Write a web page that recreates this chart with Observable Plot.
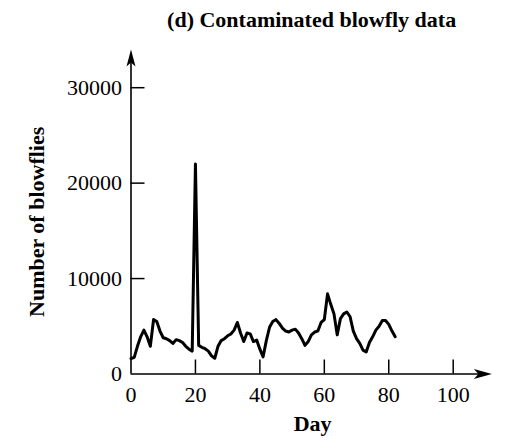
<!DOCTYPE html>
<html>
<head>
<meta charset="utf-8">
<script src="https://cdn.jsdelivr.net/npm/d3@7"></script>
<script src="https://cdn.jsdelivr.net/npm/@observablehq/plot@0.6"></script>
<style>
  html, body { margin: 0; padding: 0; background: #fff; }
  svg { display: block; }
</style>
</head>
<body>
<div id="chart"></div>
<script>
const titleText = "(d) Contaminated blowfly data";
const xLabel = "Day";
const yLabel = "Number of blowflies";

const days = [
  0, 1, 2, 3, 4, 5, 6, 7, 8, 9,
  10, 11, 12, 13, 14, 15, 16, 17, 18, 19,
  20, 21, 22, 23, 24, 25, 26, 27, 28, 29,
  30, 31, 32, 33, 34, 35, 36, 37, 38, 39,
  40, 41, 42, 43, 44, 45, 46, 47, 48, 49,
  50, 51, 52, 53, 54, 55, 56, 57, 58, 59,
  60, 61, 62, 63, 64, 65, 66, 67, 68, 69,
  70, 71, 72, 73, 74, 75, 76, 77, 78, 79,
  80, 81, 82
];
const flies = [
  1600, 1750, 2900, 3900, 4600, 3900, 2900, 5700, 5500, 4500,
  3800, 3700, 3500, 3200, 3600, 3500, 3300, 2900, 2600, 2400,
  22000, 3000, 2800, 2650, 2400, 1900, 1650, 2900, 3500, 3700,
  4000, 4200, 4600, 5400, 4300, 3400, 4300, 4200, 3400, 3550,
  2600, 1800, 3500, 4900, 5500, 5700, 5300, 4800, 4500, 4400,
  4600, 4700, 4300, 3700, 3000, 3400, 4100, 4400, 4500, 5400,
  5700, 8400, 7300, 6300, 4100, 5800, 6300, 6500, 6000, 4500,
  3700, 3200, 2500, 2300, 3300, 3900, 4600, 5000, 5600, 5600,
  5200, 4500, 3900
];
const xTicks = [0, 20, 40, 60, 80, 100];
const yTicks = [0, 10000, 20000, 30000];
const xMajor = [20, 40, 60, 80, 100];
const yMajor = [10000, 20000, 30000];
const xArrowEnd = 112;
const yArrowEnd = 34000;

const data = days.map((d, i) => ({day: d, n: flies[i]}));

const arrowUp = {
  draw(ctx) {
    ctx.moveTo(0, 0);
    ctx.lineTo(4.5, 17);
    ctx.lineTo(0, 13);
    ctx.lineTo(-4.5, 17);
    ctx.closePath();
  }
};
const arrowRight = {
  draw(ctx) {
    ctx.moveTo(0, 0);
    ctx.lineTo(-18, -5);
    ctx.lineTo(-13.5, 0);
    ctx.lineTo(-18, 5);
    ctx.closePath();
  }
};

const W = 505, H = 438;
const mL = 130.5, mR = 52.3, mT = 87.2, mB = 64.5;
const pxPerDay = (W - mL - mR) / 100;
const pxPerFly = (H - mT - mB) / 30000;
const tickLen = 14;

const fontFam = "'Liberation Serif', 'DejaVu Serif', serif";
const fmt = d => String(d);

const chart = Plot.plot({
  width: W,
  height: H,
  marginLeft: mL,
  marginRight: mR,
  marginTop: mT,
  marginBottom: mB,
  style: {fontFamily: fontFam, color: "black", background: "white", overflow: "visible"},
  x: {domain: [0, 100]},
  y: {domain: [0, 30000]},
  marks: [
    Plot.axisY({ticks: yTicks, tickFormat: fmt, tickSize: 0, tickPadding: 9, label: null, fontSize: 22, fill: "black"}),
    Plot.axisX({ticks: xTicks, tickFormat: fmt, tickSize: 0, tickPadding: 12, label: null, fontSize: 22, fill: "black"}),
    Plot.ruleX([0], {y1: 0, y2: yArrowEnd - 500, stroke: "black", strokeWidth: 1.6}),
    Plot.ruleY([0], {x1: 0, x2: xArrowEnd - 2, stroke: "black", strokeWidth: 1.6}),
    Plot.ruleY(yMajor, {x1: 0, x2: tickLen / pxPerDay, stroke: "black", strokeWidth: 1.5}),
    Plot.ruleX(xMajor, {y1: 0, y2: tickLen / pxPerFly, stroke: "black", strokeWidth: 1.5}),
    Plot.dot([{x: 0, y: yArrowEnd}], {x: "x", y: "y", symbol: arrowUp, fill: "black", stroke: null, r: 5}),
    Plot.dot([{x: xArrowEnd, y: 0}], {x: "x", y: "y", symbol: arrowRight, fill: "black", stroke: null, r: 5}),
    Plot.line(data, {x: "day", y: "n", stroke: "black", strokeWidth: 3, strokeLinejoin: "round", curve: "linear"}),
    Plot.text([titleText], {frameAnchor: "top", textAnchor: "middle", lineAnchor: "middle", dx: 19.5, dy: -68, fontSize: 22, fontWeight: "bold", fill: "black"}),
    Plot.text([xLabel], {frameAnchor: "bottom", textAnchor: "middle", lineAnchor: "middle", dx: 20.5, dy: 50, fontSize: 22, fontWeight: "bold", fill: "black"}),
    Plot.text([yLabel], {frameAnchor: "left", textAnchor: "middle", lineAnchor: "middle", dx: -94.5, dy: -9, rotate: -90, fontSize: 22, fontWeight: "bold", fill: "black"})
  ]
});
document.getElementById("chart").appendChild(chart);
</script>
</body>
</html>
